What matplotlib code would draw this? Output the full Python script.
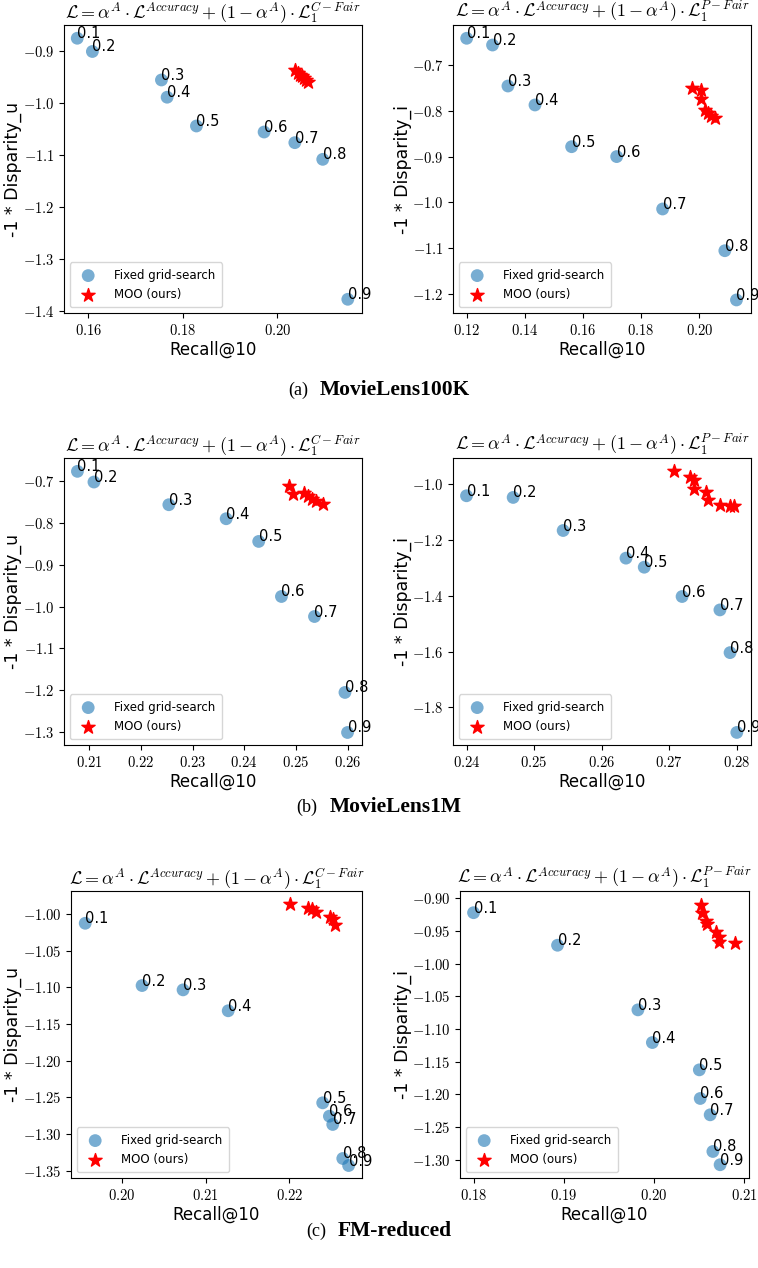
import numpy as np
import matplotlib
matplotlib.use("Agg")
import matplotlib.pyplot as plt
from matplotlib.ticker import MultipleLocator, FuncFormatter

plt.rcParams['mathtext.fontset'] = 'cm'
plt.rcParams['font.family'] = ['DejaVu Sans']

alphas = ['0.1', '0.2', '0.3', '0.4', '0.5', '0.6', '0.7', '0.8', '0.9']

# MovieLens100K, C-Fair
ml100k_c_rec = [0.1577, 0.1609, 0.1755, 0.1767, 0.1829, 0.1972, 0.2037, 0.2096, 0.2149]
ml100k_c_dis = [-0.8755, -0.901, -0.9558, -0.989, -1.0444, -1.056, -1.0765, -1.1086, -1.378]
ml100k_c_moo_rec = [0.2037, 0.2043, 0.2048, 0.2052, 0.2056, 0.2060, 0.2064]
ml100k_c_moo_dis = [-0.9366, -0.9424, -0.9462, -0.9481, -0.952, -0.9558, -0.9597]

# MovieLens100K, P-Fair
ml100k_p_rec = [0.1200, 0.1289, 0.1342, 0.1435, 0.1561, 0.1716, 0.1874, 0.2088, 0.2128]
ml100k_p_dis = [-0.6417, -0.6564, -0.7459, -0.7873, -0.8784, -0.900, -1.0144, -1.1055, -1.213]
ml100k_p_moo_rec = [0.1976, 0.2006, 0.2006, 0.2020, 0.2030, 0.2040, 0.2054]
ml100k_p_moo_dis = [-0.7509, -0.7546, -0.7742, -0.7983, -0.8048, -0.8114, -0.8157]

# MovieLens1M, C-Fair
ml1m_c_rec = [0.2077, 0.2109, 0.2254, 0.2365, 0.2428, 0.2472, 0.2536, 0.2595, 0.2600]
ml1m_c_dis = [-0.676, -0.7016, -0.756, -0.7896, -0.844, -0.976, -1.024, -1.206, -1.302]
ml1m_c_moo_rec = [0.2487, 0.2495, 0.2515, 0.2524, 0.2532, 0.2539, 0.2553]
ml1m_c_moo_dis = [-0.712, -0.730, -0.728, -0.736, -0.7415, -0.746, -0.754]

# MovieLens1M, P-Fair
ml1m_p_rec = [0.2400, 0.2469, 0.2543, 0.2636, 0.2663, 0.2719, 0.2775, 0.2790, 0.2800]
ml1m_p_dis = [-1.042, -1.048, -1.1665, -1.2655, -1.298, -1.403, -1.451, -1.604, -1.890]
ml1m_p_moo_rec = [0.2707, 0.2731, 0.2736, 0.2737, 0.2755, 0.2757, 0.2775, 0.2790, 0.2796]
ml1m_p_moo_dis = [-0.952, -0.973, -0.985, -1.018, -1.030, -1.056, -1.074, -1.078, -1.078]

# FM-reduced, C-Fair
fm_c_rec = [0.1956, 0.2024, 0.2073, 0.2127, 0.2240, 0.2248, 0.2252, 0.2264, 0.2271]
fm_c_dis = [-1.0127, -1.0976, -1.1035, -1.132, -1.2575, -1.2757, -1.287, -1.3334, -1.343]
fm_c_moo_rec = [0.2201, 0.2222, 0.2227, 0.2232, 0.2249, 0.2252, 0.2255]
fm_c_moo_dis = [-0.9864, -0.9914, -0.9932, -0.9977, -1.0037, -1.0068, -1.015]

# FM-reduced, P-Fair
fm_p_rec = [0.1800, 0.1893, 0.1982, 0.1998, 0.2050, 0.2051, 0.2062, 0.2065, 0.2073]
fm_p_dis = [-0.922, -0.9718, -1.0707, -1.1207, -1.1625, -1.2063, -1.2313, -1.2874, -1.3077]
fm_p_moo_rec = [0.2052, 0.2053, 0.2057, 0.2059, 0.2069, 0.2072, 0.2072, 0.2090]
fm_p_moo_dis = [-0.9102, -0.9229, -0.9347, -0.9397, -0.9511, -0.9587, -0.9663, -0.9688]

captions = [('(a)', 'MovieLens100K'), ('(b)', 'MovieLens1M'), ('(c)', 'FM-reduced')]

title_c = r'$\mathcal{L}=\alpha^{A}\cdot\mathcal{L}^{Accuracy}+(1-\alpha^{A})\cdot\mathcal{L}_1^{C-Fair}$'
title_p = r'$\mathcal{L}=\alpha^{A}\cdot\mathcal{L}^{Accuracy}+(1-\alpha^{A})\cdot\mathcal{L}_1^{P-Fair}$'

W, H = 758, 1268
fig = plt.figure(figsize=(W / 100, H / 100), dpi=100)

def add_ax(x0, y0, x1, y1):
    return fig.add_axes([x0 / W, 1 - y1 / H, (x1 - x0) / W, (y1 - y0) / H])

def tex_fmt(nd):
    return FuncFormatter(lambda v, p: '$%.*f$' % (nd, v))

panels = [
    # box, rec, dis, moo rec, moo dis, title, ylabel, xlim, ylim, xstep, ystep, ydec, ylabel x
    ((64, 25, 362, 313), ml100k_c_rec, ml100k_c_dis, ml100k_c_moo_rec, ml100k_c_moo_dis,
     title_c, '-1 * Disparity_u', (0.1549, 0.2179), (-1.4044, -0.850), 0.02, 0.1, 1, -0.141),
    ((453, 25, 751, 313), ml100k_p_rec, ml100k_p_dis, ml100k_p_moo_rec, ml100k_p_moo_dis,
     title_p, '-1 * Disparity_i', (0.1153, 0.2178), (-1.2415, -0.6127), 0.02, 0.1, 1, -0.138),
    ((64, 458, 362, 745), ml1m_c_rec, ml1m_c_dis, ml1m_c_moo_rec, ml1m_c_moo_dis,
     title_c, '-1 * Disparity_u', (0.2051, 0.2628), (-1.332, -0.644), 0.01, 0.1, 1, -0.141),
    ((453, 458, 751, 745), ml1m_p_rec, ml1m_p_dis, ml1m_p_moo_rec, ml1m_p_moo_dis,
     title_p, '-1 * Disparity_i', (0.2380, 0.2821), (-1.935, -0.9067), 0.01, 0.2, 1, -0.138),
    ((71, 891, 362, 1178), fm_c_rec, fm_c_dis, fm_c_moo_rec, fm_c_moo_dis,
     title_c, '-1 * Disparity_u', (0.1939, 0.2287), (-1.360, -0.9687), 0.01, 0.05, 2, -0.168),
    ((460, 891, 749, 1178), fm_p_rec, fm_p_dis, fm_p_moo_rec, fm_p_moo_dis,
     title_p, '-1 * Disparity_i', (0.1785, 0.2105), (-1.328, -0.8888), 0.01, 0.05, 2, -0.166),
]

for box, rec, dis, mrec, mdis, title, ylab, xlim, ylim, xs, ys, ydec, ylx in panels:
    ax = add_ax(*box)
    ax.scatter(rec, dis, s=85, color='#1f77b4', alpha=0.6, edgecolors='none', label='Fixed grid-search')
    ax.scatter(mrec, mdis, s=100, color='red', marker='*', label='MOO (ours)')
    for a, xv, yv in zip(alphas, rec, dis):
        ax.text(xv, yv, a, fontsize=10.5)
    ax.set_xlim(*xlim)
    ax.set_ylim(*ylim)
    ax.xaxis.set_major_locator(MultipleLocator(xs))
    ax.yaxis.set_major_locator(MultipleLocator(ys))
    ax.xaxis.set_major_formatter(tex_fmt(2))
    ax.yaxis.set_major_formatter(tex_fmt(ydec))
    ax.tick_params(labelsize=10.5)
    ax.set_title(title, fontsize=13, pad=2)
    ax.set_xlabel('Recall@10', fontsize=12, labelpad=2)
    ax.set_ylabel(ylab, fontsize=12.5)
    ax.yaxis.set_label_coords(ylx, 0.5)
    ax.legend(loc='lower left', fontsize=8.5, borderpad=0.55, handletextpad=1.2)

# sub-figure captions, centred as a whole: "(a)" normal + gap + bold name
renderer = fig.canvas.get_renderer()
cap_y = [390, 807, 1231]
gap = 12
for (tag, name), yy in zip(captions, cap_y):
    t1 = fig.text(0, 1 - yy / H, tag, ha='left', va='center', fontsize=13,
                  family='Liberation Serif')
    t2 = fig.text(0, 1 - yy / H, name, ha='left', va='center', fontsize=15.5,
                  family='Liberation Serif', fontweight='bold')
    w1 = t1.get_window_extent(renderer).width
    w2 = t2.get_window_extent(renderer).width
    x0 = W / 2 - (w1 + gap + w2) / 2
    t1.set_x(x0 / W)
    t2.set_x((x0 + w1 + gap) / W)

fig.savefig('out.png', dpi=100)
